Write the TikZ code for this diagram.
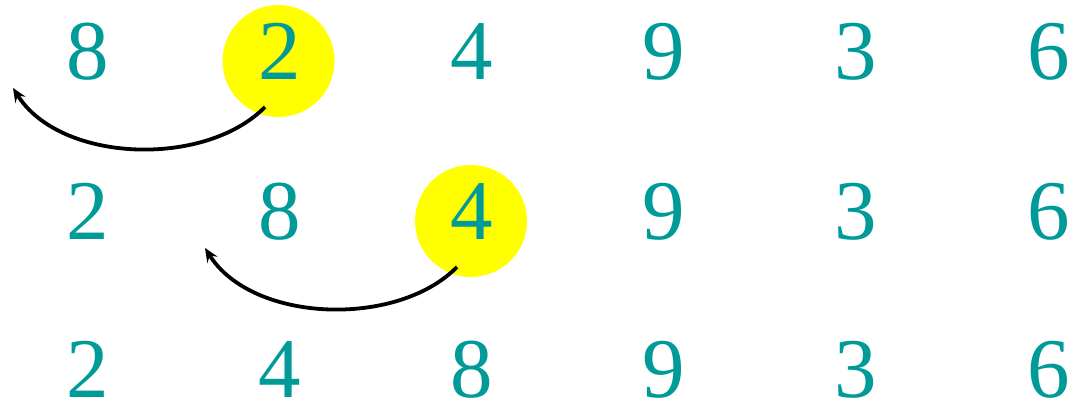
\documentclass[tikz,border=0pt]{standalone}
\usepackage{fontspec}
\setmainfont{Liberation Serif}
\usetikzlibrary{arrows.meta}
\definecolor{digitteal}{HTML}{009B98}
\definecolor{hiyellow}{HTML}{FFFF00}
\begin{document}
\begin{tikzpicture}[x=1pt,y=-1pt,
  digit/.style={text=digitteal, inner sep=0pt, anchor=base, font=\fontsize{85}{85}\selectfont},
  hilite/.style={circle, fill=hiyellow, draw=none, minimum size=112pt, inner sep=0pt},
  swaparrow/.style={line width=3.8pt, -{Stealth[length=14pt,width=12pt,inset=5pt]}}]
\useasboundingbox (0,0) rectangle (1077,404);
% highlight circles
\node[hilite] (h1) at (278.5,61) {};
\node[hilite] (h2) at (471,221) {};
% row 1
\node[digit] (a1) at (88,80) {8};
\node[digit] (a2) at (280,80) {2};
\node[digit] (a3) at (472,80) {4};
\node[digit] (a4) at (664,80) {9};
\node[digit] (a5) at (856,80) {3};
\node[digit] (a6) at (1049,80) {6};
% row 2
\node[digit] (b1) at (88,239) {2};
\node[digit] (b2) at (280,239) {8};
\node[digit] (b3) at (472,239) {4};
\node[digit] (b4) at (664,239) {9};
\node[digit] (b5) at (856,239) {3};
\node[digit] (b6) at (1049,239) {6};
% row 3
\node[digit] (c1) at (88,397) {2};
\node[digit] (c2) at (280,397) {4};
\node[digit] (c3) at (472,397) {8};
\node[digit] (c4) at (664,397) {9};
\node[digit] (c5) at (856,397) {3};
\node[digit] (c6) at (1049,397) {6};
% arrows
\coordinate (s1) at (265,107);
\coordinate (e1) at (13,88);
\coordinate (s2) at (457,267);
\coordinate (e2) at (205,248);
\draw[swaparrow] (s1) .. controls (205,168) and (60,163) .. (e1);
\draw[swaparrow] (s2) .. controls (397,328) and (252,323) .. (e2);
\end{tikzpicture}
\end{document}
